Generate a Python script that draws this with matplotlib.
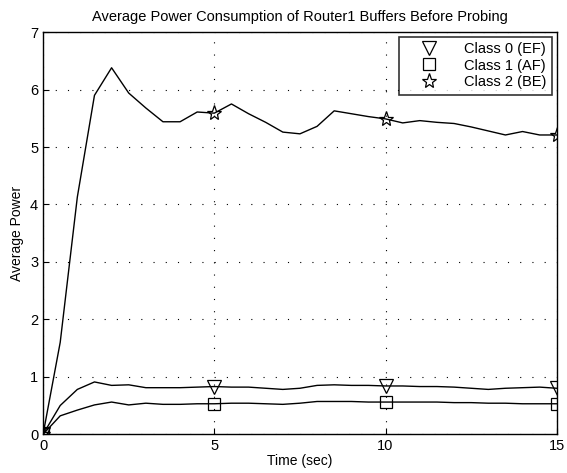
import numpy as np
import matplotlib.pyplot as plt
from matplotlib.lines import Line2D

plt.rcParams['font.family'] = ['Liberation Sans', 'DejaVu Sans']

# time axis, samples every 0.5 s
t = np.arange(0, 15.01, 0.5)

ef = [0.0, 0.50, 0.78, 0.91, 0.85, 0.86, 0.81, 0.81, 0.81, 0.82, 0.83,
      0.82, 0.82, 0.80, 0.78, 0.80, 0.85, 0.86, 0.85, 0.85, 0.84,
      0.84, 0.83, 0.83, 0.82, 0.80, 0.78, 0.80, 0.81, 0.82, 0.80]
af = [0.0, 0.32, 0.42, 0.51, 0.56, 0.51, 0.54, 0.52, 0.52, 0.53, 0.53,
      0.54, 0.54, 0.53, 0.52, 0.54, 0.57, 0.57, 0.57, 0.56, 0.56,
      0.56, 0.56, 0.56, 0.55, 0.55, 0.54, 0.54, 0.53, 0.53, 0.53]
be = [0.0, 1.60, 4.13, 5.90, 6.38, 5.94, 5.68, 5.44, 5.44, 5.61, 5.59,
      5.75, 5.58, 5.43, 5.26, 5.23, 5.36, 5.63, 5.58, 5.53, 5.49,
      5.42, 5.46, 5.43, 5.41, 5.35, 5.28, 5.21, 5.27, 5.21, 5.21]

labels = ['Class 0 (EF)', 'Class 1 (AF)', 'Class 2 (BE)']
markers = ['v', 's', '*']
sizes = [10, 8, 11]

fig = plt.figure(figsize=(5.67, 4.73), dpi=100)
ax = fig.add_axes([0.076, 0.082, 0.906, 0.85])

for y, m, ms in zip([ef, af, be], markers, sizes):
    ax.plot(t, y, color='black', lw=1.0, marker=m, markersize=ms,
            markevery=10, markerfacecolor='none', markeredgecolor='black',
            markeredgewidth=0.9)

ax.set_xlim(0, 15)
ax.set_ylim(0, 7)
ax.set_xticks([0, 5, 10, 15])
ax.set_yticks(range(0, 8))
ax.tick_params(direction='in', labelsize=10.5, length=4)
ax.grid(True, color='black', linestyle=(0, (1, 10)), linewidth=0.8)
for s in ax.spines.values():
    s.set_linewidth(1.0)

ax.set_title('Average Power Consumption of Router1 Buffers Before Probing',
             fontsize=10.5, pad=8)
ax.set_xlabel('Time (sec)', fontsize=10, labelpad=1)
ax.set_ylabel('Average Power', fontsize=10, labelpad=4)

handles = [Line2D([], [], linestyle='none', marker=m, markersize=ms,
                  markerfacecolor='none', markeredgecolor='black',
                  markeredgewidth=0.9)
           for m, ms in zip(markers, sizes)]
leg = ax.legend(handles, labels, loc='upper right', fontsize=10.5,
                frameon=True, fancybox=False, borderaxespad=0.3,
                borderpad=0.4, handlelength=3.4, handletextpad=0.7,
                labelspacing=0.15)
leg.get_frame().set_edgecolor('black')
leg.get_frame().set_linewidth(1.2)

plt.savefig('out.png', dpi=100)
